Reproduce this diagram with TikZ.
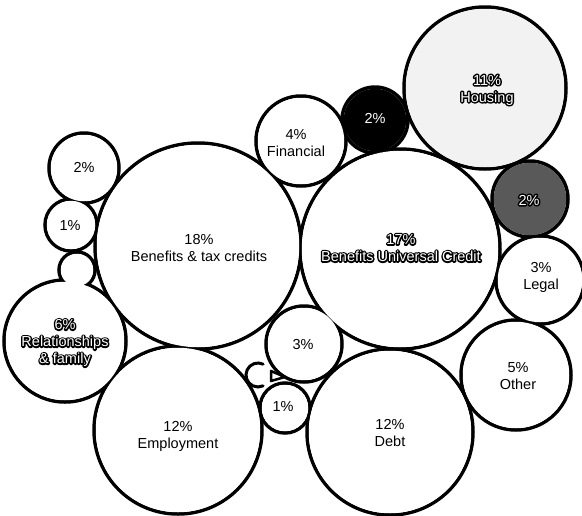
\documentclass[tikz,border=0pt]{standalone}
\usepackage{fontspec}
\setmainfont{Liberation Sans}

%white letters on a black rim: a stroked copy under the filled one
\newcommand{\outlined}[1]{\rlap{\special{pdf:literal direct 1 Tr 3 w 1 j 0 0 0 RG}#1\special{pdf:literal direct 0 Tr}}#1}

\tikzset{
	bubbletext/.style={align=center, inner sep=0pt, font=\fontsize{14.5}{17}\selectfont},
	whitetext/.style={bubbletext, text=white},
}

\begin{document}
\begin{tikzpicture}[x=1pt, y=-1pt]
	\useasboundingbox (0,0) rectangle (582,515);
	%outlines first
	\foreach \x/\y/\r in {198/246/103, 400/249/100, 485/88/81, 375/120/33, 301/141/45,
			530/199/38, 540/280/44, 516/375/55, 390/432/83, 304/344/38, 285/408/25,
			178/430/84, 65/341/61, 84/168/35, 71/225/26, 77/270/18}
		\draw[line width=3.5pt] (\x, \y) circle (\r);
	%fills hide the inner parts of the lines
	\foreach \x/\y/\r/\c in {198/246/103/white, 400/249/100/white, 485/88/81/black!5,
			375/120/33/black, 301/141/45/white, 530/199/38/black!65, 540/280/44/white,
			516/375/55/white, 390/432/83/white, 304/344/38/white, 285/408/25/white,
			178/430/84/white, 65/341/61/white, 84/168/35/white,
			71/225/26/white, 77/270/18/white}
		\fill[\c] (\x, \y) circle (\r - 1.75);
	%tiny leftovers between 3% and 1%
	\draw[line width=3pt, line cap=round] (258, 375) ++(-65:12) arc[start angle=-65, end angle=-295, radius=12];
	\draw[line width=2.5pt, line join=round] (271, 371) -- (285, 377) -- (271, 381) -- cycle;
	%labels
	\node[bubbletext] (benefits) at (199, 248) {18\%\\Benefits \& tax credits};
	\node[whitetext] (universal) at (401, 248) {\outlined{17\%}\\\outlined{Benefits Universal Credit}};
	\node[whitetext] (housing) at (487, 90) {\outlined{11\%}\\\outlined{Housing}};
	\node[whitetext] (blackdot) at (375, 118) {2\%};
	\node[bubbletext] (financial) at (296, 143) {4\%\\Financial};
	\node[whitetext] (darkdot) at (529, 200) {\outlined{2\%}};
	\node[bubbletext] (legal) at (541, 277) {3\%\\Legal};
	\node[bubbletext] (other) at (518, 376) {5\%\\Other};
	\node[bubbletext] (debt) at (390, 433) {12\%\\Debt};
	\node[bubbletext] (employment) at (178, 436) {12\%\\Employment};
	\node[bubbletext] (smallthree) at (303, 345) {3\%};
	\node[bubbletext] (smallone) at (283, 407) {1\%};
	\node[bubbletext] (topleft) at (84, 167) {2\%};
	\node[bubbletext] (leftone) at (70, 226) {1\%};
	\node[whitetext] (family) at (65, 343) {\outlined{6\%}\\\outlined{Relationships}\\\outlined{\& family}};
\end{tikzpicture}
\end{document}
